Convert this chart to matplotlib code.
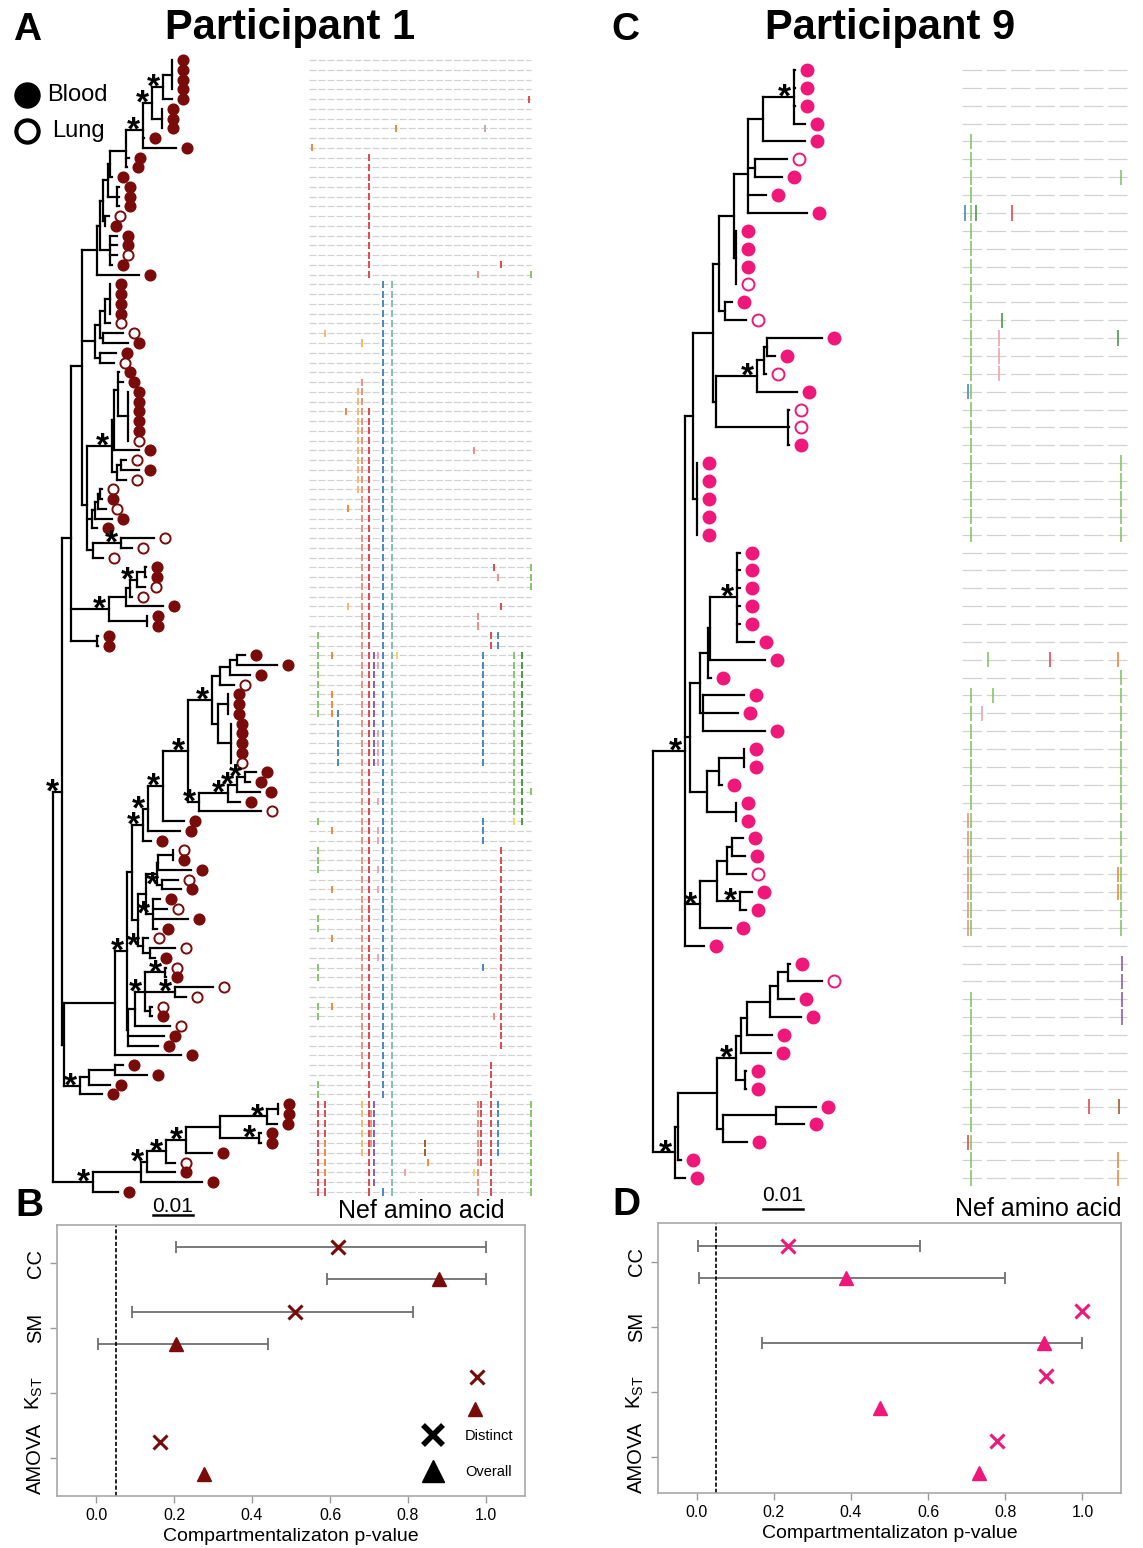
import numpy as np
import matplotlib
matplotlib.use('Agg')
import matplotlib.pyplot as plt
from matplotlib.collections import LineCollection

plt.rcParams['font.family'] = ['Liberation Sans', 'DejaVu Sans']
plt.rcParams['mathtext.fontset'] = 'custom'
plt.rcParams['mathtext.rm'] = 'Liberation Sans'
plt.rcParams['lines.scale_dashes'] = False

W, H = 1143, 1548

P1_COLOR = '#7a0b0b'
P9_COLOR = '#f0177a'

# trees: B = blood, L = lung, * = supported node
# number after ':' is the distance from the root, in units of 0.00025 subs/site
P1_TREE = (
    "((((((((((((((B:119,B:119,B:119,B:119):119,B:119)*:110,(B:109,B:109,B:109):109)*:99,"
    "B:91,B:123)*:90,B:76,B:74):73,B:59):57,(B:66,B:66,B:66):64):55,(L:56,B:52):52):50,"
    "(B:64,B:64,L:64,B:59):57):47,B:86):44,"
    "((((B:57,B:57,B:57,B:57):57,L:57):52,(L:70,B:75):50):47,(B:63,L:61):47):42,"
    "((((B:66,B:70,(B:75,B:75,B:75,B:75,B:75,L:75):75):65,B:86):61,((L:73,B:86):68,L:73):64)*:59,"
    "((((L:49,B:49):47,L:53):45,B:59):42,B:44):39,"
    "((L:101,L:79)*:68,L:50):40):34):29,"
    "(((((B:93,B:93):92,L:92)*:84,L:79):77,B:110):73,(B:94,B:94):94)*:56,"
    "(B:45,B:45):44):18,"
    "((((((((((((B:192,B:224):184,B:197):177,L:181):167,((B:175,B:175,B:175):175,"
    "(B:178,B:178,B:178,B:178,L:178):178):165)*:159,"
    "((((B:203,B:197)*:192,B:207)*:184,B:187)*:175,L:208)*:146)*:135,B:131)*:110,B:127)*:95,B:98)*:90,"
    "(((((L:120,B:120):120,B:138):105,(L:125,B:128)*:109):104,(B:107,L:114,B:135,B:104)*:100):93,"
    "(L:95,(L:122,B:102):97)*:90):85):79,"
    "((((L:113,B:113)*:112,(L:160,L:133)*:122,(L:99,B:99):97)*:92,L:117):82,B:111,B:105):75)*:74,"
    "B:128):62,"
    "(((B:70,B:94):62,B:57):36,B:49)*:27):11)*:9,"
    "((((((((B:225,B:225):225,B:224)*:214,(B:208,B:208)*:206):167,B:159)*:133,L:122)*:113,"
    "B:122)*:94,B:149):88,B:65)*:40):0"
)

P9_TREE = (
    "(((((((((B:142,B:142,B:142,B:152)*:141,B:152):110,(L:134,B:129):102,B:113,B:154):95,"
    "(B:83,B:83,B:83,L:83):83):81,(B:79,L:93):72):66,"
    "((((B:169,B:122):114,L:113):111,B:144)*:104,(L:136,L:136,B:136):135):63):60,"
    "(B:44,B:44,B:44,B:44,B:44):44):40,"
    "(((((B:87,B:87,B:87,B:87,B:87,B:101)*:84,B:112):57,B:58):55,(B:91,B:85,B:112):50):47,"
    "(((B:91,B:91):91,B:69):66,(B:83,B:83):83):54):37,"
    "((((B:90,B:92):79,L:93):74,(B:99,B:93)*:87):64,B:78)*:47,"
    "B:51)*:32,"
    "(((((((((B:137,L:169):135,B:141):125,B:148):117,B:119):94,B:118):88,(B:93,B:93):92)*:83,"
    "((B:163,B:151):123,B:94):70):64,B:28):25,B:32)*:22):0"
)

# highlighter marks: (Nef position, first row, last row, colour)
P1_MUTS = [
    (204, 4, 4, 'red'), (81, 7, 7, 'orange'), (164, 7, 7, 'mauve'), (4, 9, 9, 'orange'),
    (56, 10, 22, 'red'), (179, 21, 21, 'red'), (157, 22, 22, 'salmon'), (206, 22, 22, 'green'),
    (69, 23, 106, 'blue'), (69, 116, 116, 'blue'), (78, 23, 116, 'teal'),
    (16, 28, 28, 'lorange'), (50, 29, 29, 'lorange'),
    (50, 33, 103, 'salmon'), (56, 36, 116, 'red'), (46, 34, 44, 'lorange'),
    (35, 36, 36, 'orange'), (37, 46, 46, 'orange'), (154, 40, 40, 'salmon'),
    (206, 52, 54, 'green'), (172, 52, 52, 'red'), (176, 53, 53, 'salmon'),
    (37, 56, 56, 'lorange'), (179, 56, 56, 'red'), (157, 57, 58, 'salmon'),
    (9, 59, 67, 'green'), (169, 59, 60, 'red'), (176, 59, 60, 'blue'),
    (22, 61, 61, 'orange'), (22, 65, 67, 'orange'), (61, 61, 72, 'purple'),
    (65, 61, 62, 'pink'), (65, 69, 72, 'pink'), (82, 61, 61, 'yellow'),
    (162, 61, 72, 'blue'), (162, 78, 80, 'blue'), (191, 61, 78, 'green'), (198, 61, 78, 'dgreen'),
    (28, 67, 72, 'blue'), (206, 75, 75, 'green'), (191, 78, 78, 'yellow'),
    (9, 78, 78, 'green'), (9, 81, 83, 'green'), (22, 79, 79, 'orange'), (22, 85, 85, 'orange'),
    (179, 81, 101, 'red'), (65, 76, 76, 'pink'), (65, 79, 80, 'pink'), (65, 83, 83, 'pink'),
    (65, 85, 85, 'pink'), (9, 88, 89, 'green'), (22, 90, 90, 'orange'), (9, 93, 94, 'green'),
    (22, 97, 97, 'orange'), (65, 92, 92, 'pink'), (162, 93, 93, 'blue'), (172, 98, 98, 'salmon'),
    (9, 97, 98, 'green'), (169, 103, 116, 'red'), (9, 105, 106, 'green'), (9, 107, 116, 'red'),
    (16, 107, 110, 'red'), (16, 111, 114, 'orange'), (16, 115, 116, 'red'),
    (50, 107, 112, 'lorange'), (58, 108, 111, 'salmon'), (61, 107, 115, 'purple'),
    (108, 111, 112, 'brown'), (111, 113, 113, 'orange'), (90, 114, 114, 'pink'),
    (154, 114, 114, 'yellow'), (157, 107, 116, 'salmon'), (160, 107, 113, 'red'),
    (176, 107, 112, 'blue'), (206, 107, 116, 'green'),
]

P9_MUTS = [
    (14, 4, 26, 'green'), (14, 35, 48, 'green'), (14, 52, 62, 'green'),
    (199, 6, 6, 'green'), (199, 22, 26, 'green'), (199, 34, 48, 'green'),
    (6, 8, 8, 'blue'), (20, 8, 8, 'dgreen'), (64, 8, 8, 'red'),
    (52, 14, 14, 'dgreen'), (48, 15, 17, 'pink'), (195, 15, 15, 'dgreen'),
    (10, 18, 18, 'blue'), (35, 33, 33, 'green'), (111, 33, 33, 'red'), (195, 33, 33, 'orange'),
    (41, 35, 35, 'green'), (27, 36, 36, 'pink'), (10, 42, 48, 'salmon'), (195, 45, 46, 'orange'),
    (200, 50, 53, 'purple'), (159, 58, 58, 'red'), (196, 58, 58, 'brown'), (10, 60, 60, 'red'),
    (195, 61, 62, 'orange'),
]

MUT_COLORS = {'red': '#e04a4f', 'salmon': '#ec8f84', 'blue': '#4a87c4', 'teal': '#80c1aa',
              'green': '#86c66a', 'dgreen': '#4e9a48', 'orange': '#ef8a3d', 'lorange': '#f6b96a',
              'purple': '#8a5db0', 'pink': '#e8a6b3', 'yellow': '#f3d36a', 'brown': '#a45b2c',
              'mauve': '#c4a3c4'}

# compartmentalization tests
TESTS = ['CC', 'SM', r'K$_{\mathrm{ST}}$', 'AMOVA']
P1_DISTINCT = [0.62, 0.51, 0.977, 0.164]
P1_DISTINCT_LO = [0.205, 0.093, np.nan, np.nan]
P1_DISTINCT_HI = [1.0, 0.813, np.nan, np.nan]
P1_OVERALL = [0.879, 0.204, 0.971, 0.276]
P1_OVERALL_LO = [0.593, 0.005, np.nan, np.nan]
P1_OVERALL_HI = [1.0, 0.441, np.nan, np.nan]

P9_DISTINCT = [0.236, 1.0, 0.906, 0.778]
P9_DISTINCT_LO = [0.003, np.nan, np.nan, np.nan]
P9_DISTINCT_HI = [0.578, np.nan, np.nan, np.nan]
P9_OVERALL = [0.387, 0.90, 0.475, 0.733]
P9_OVERALL_LO = [0.005, 0.17, np.nan, np.nan]
P9_OVERALL_HI = [0.80, 1.0, np.nan, np.nan]


def parse_tree(text):
    pos = 0

    def node():
        nonlocal pos
        children = []
        if text[pos] == '(':
            pos += 1
            children.append(node())
            while text[pos] == ',':
                pos += 1
                children.append(node())
            pos += 1
        start = pos
        while text[pos] != ':':
            pos += 1
        label = text[start:pos]
        pos += 1
        start = pos
        while pos < len(text) and text[pos] not in ',)':
            pos += 1
        return {'label': label, 'depth': float(text[start:pos]), 'children': children}

    root = node()
    tips = []

    def place(n):
        if not n['children']:
            n['y'] = len(tips)
            tips.append(n)
        else:
            for c in n['children']:
                place(c)
            n['y'] = np.mean([c['y'] for c in n['children']])
    place(root)
    return root, tips


def draw_tree(ax, text, color, dot_offset, ms, lw):
    root, tips = parse_tree(text)
    segs, stars = [], []

    def walk(n):
        if not n['children']:
            return
        ys = [c['y'] for c in n['children']]
        segs.append([(n['depth'], min(ys)), (n['depth'], max(ys))])
        for c in n['children']:
            if c['depth'] > n['depth']:
                segs.append([(n['depth'], c['y']), (c['depth'], c['y'])])
            walk(c)
        if n['label'] == '*':
            stars.append((n['depth'], n['y']))
    walk(root)
    ax.add_collection(LineCollection(segs, colors='black', linewidths=lw, capstyle='projecting'))
    for t in tips:
        face = color if t['label'] == 'B' else 'white'
        ax.plot(t['depth'] + dot_offset, t['y'], 'o', ms=ms, mfc=face, mec=color, mew=1.4)
    for sx, sy in stars:
        ax.annotate('*', (sx, sy), xytext=(-7, -7), textcoords='offset points',
                    ha='center', va='baseline', fontsize=24, fontweight='bold')
    return len(tips)


def draw_highlighter(ax, n_rows, muts, x0, x1, dash, half, tick_lw):
    rows = np.arange(n_rows)
    ax.hlines(rows, x0, x1, colors='#d2d2d2', linewidth=0.9, linestyles=[(0, dash)])
    for pos, r0, r1, col in muts:
        rr = np.arange(r0, r1 + 1)
        ax.vlines(np.full(len(rr), pos), rr - half, rr + half, colors=MUT_COLORS[col],
                  linewidth=tick_lw)
    ax.set_xlim(0, 210)


def draw_pvalues(ax, color, dist, dlo, dhi, over, olo, ohi, ylim, legend=False):
    yk = np.array([4, 3, 2, 1])
    for vals, lo, hi, dy in [(dist, dlo, dhi, 0.25), (over, olo, ohi, -0.25)]:
        vals, lo, hi = np.array(vals), np.array(lo), np.array(hi)
        ok = ~np.isnan(lo)
        ax.errorbar(vals[ok], yk[ok] + dy, xerr=[vals[ok] - lo[ok], hi[ok] - vals[ok]],
                    fmt='none', ecolor='#6f6f6f', elinewidth=1.3, capsize=4.5, capthick=1.3)
    ax.plot(dist, yk + 0.25, 'x', ls='none', ms=10, mew=2.2, color=color, zorder=3)
    ax.plot(over, yk - 0.25, '^', ls='none', ms=9.5, color=color, zorder=3)
    ax.axvline(0.05, color='black', lw=1.2, ls=(0, (3, 1.5)))
    ax.set_xlim(-0.1, 1.1)
    ax.set_ylim(*ylim)
    ax.set_yticks(yk)
    ax.set_yticklabels(TESTS, rotation=90, va='center', fontsize=14.5)
    ax.set_xticks(np.arange(0, 1.01, 0.2))
    ax.set_xticklabels(['0.0', '0.2', '0.4', '0.6', '0.8', '1.0'], fontsize=11.5)
    ax.set_xlabel('Compartmentalizaton p-value', fontsize=14, labelpad=4)
    ax.tick_params(color='#9a9a9a', length=5, width=1)
    for sp in ax.spines.values():
        sp.set_color('#a8a8a8')
        sp.set_linewidth(1.2)
    if legend:
        hx = ax.plot([], [], 'x', ls='none', ms=15, mew=4, color='black')[0]
        ht = ax.plot([], [], '^', ls='none', ms=16, color='black')[0]
        ax.legend([hx, ht], ['Distinct', 'Overall'], loc='lower right', frameon=False,
                  fontsize=10.5, labelspacing=1.5, handletextpad=1.2, borderaxespad=0.4,
                  bbox_to_anchor=(1.0, 0.02))


fig = plt.figure(figsize=(W / 100, H / 100), dpi=100)

def rect(x0, y0, x1, y1):
    return [x0 / W, 1 - y1 / H, (x1 - x0) / W, (y1 - y0) / H]

# Participant 1 tree + highlighter
ax1 = fig.add_axes(rect(20, 50, 305, 1200))
n1 = draw_tree(ax1, P1_TREE, P1_COLOR, 11, 7.3, 1.6)
ax1.set_xlim(-33, 252)
ax1.set_ylim(116.82, -1.025)
ax1.axis('off')
ax1.plot([100, 140], [118.35, 118.35], color='black', lw=1.8, clip_on=False)
ax1.text(120, 117.45, '0.01', ha='center', va='center', fontsize=15)

hl1 = fig.add_axes(rect(308, 50, 535, 1200))
draw_highlighter(hl1, n1, P1_MUTS, 1, 206, (5, 1.5), 0.36, 1.4)
hl1.set_ylim(116.82, -1.025)
hl1.axis('off')

# Participant 9 tree + highlighter
ax9 = fig.add_axes(rect(640, 50, 955, 1200))
n9 = draw_tree(ax9, P9_TREE, P9_COLOR, 12, 8.6, 1.6)
ax9.set_xlim(-13, 302)
ax9.set_ylim(63.23, -1.119)
ax9.axis('off')
ax9.plot([110, 150], [63.73, 63.73], color='black', lw=1.8, clip_on=False)
ax9.text(130, 63.0, '0.01', ha='center', va='center', fontsize=15)

hl9 = fig.add_axes(rect(960, 50, 1130, 1200))
draw_highlighter(hl9, n9, P9_MUTS, 3, 206, (14, 3.5), 0.43, 1.2)
hl9.set_ylim(63.23, -1.119)
hl9.axis('off')

# Blood / Lung key
ax1.plot([27 / W], [1 - 95 / H], 'o', ms=18, color='black', transform=fig.transFigure, clip_on=False)
ax1.plot([27 / W], [1 - 131 / H], 'o', ms=16, mfc='white', mec='black', mew=3,
         transform=fig.transFigure, clip_on=False)
fig.text(47 / W, 1 - 95 / H, 'Blood', va='center', fontsize=17)
fig.text(52 / W, 1 - 131 / H, 'Lung', va='center', fontsize=17)

# p-value panels
axB = fig.add_axes(rect(57, 1225, 525, 1496))
draw_pvalues(axB, P1_COLOR, P1_DISTINCT, P1_DISTINCT_LO, P1_DISTINCT_HI,
             P1_OVERALL, P1_OVERALL_LO, P1_OVERALL_HI, (0.415, 4.585), legend=True)
axD = fig.add_axes(rect(658, 1223, 1121, 1493))
draw_pvalues(axD, P9_COLOR, P9_DISTINCT, P9_DISTINCT_LO, P9_DISTINCT_HI,
             P9_OVERALL, P9_OVERALL_LO, P9_OVERALL_HI, (0.446, 4.6))

# titles and panel letters
fig.text(290 / W, 1 - 28 / H, 'Participant 1', ha='center', va='center', fontsize=30, fontweight='bold')
fig.text(890 / W, 1 - 28 / H, 'Participant 9', ha='center', va='center', fontsize=30, fontweight='bold')
for letter, x, y in [('A', 27, 30), ('C', 625, 30), ('B', 29, 1206), ('D', 626, 1205)]:
    fig.text(x / W, 1 - y / H, letter, ha='center', va='center', fontsize=28, fontweight='bold')
fig.text(421 / W, 1 - 1211 / H, 'Nef amino acid', ha='center', va='center', fontsize=18)
fig.text(1038 / W, 1 - 1209 / H, 'Nef amino acid', ha='center', va='center', fontsize=18)

fig.savefig('out.png', dpi=100)
